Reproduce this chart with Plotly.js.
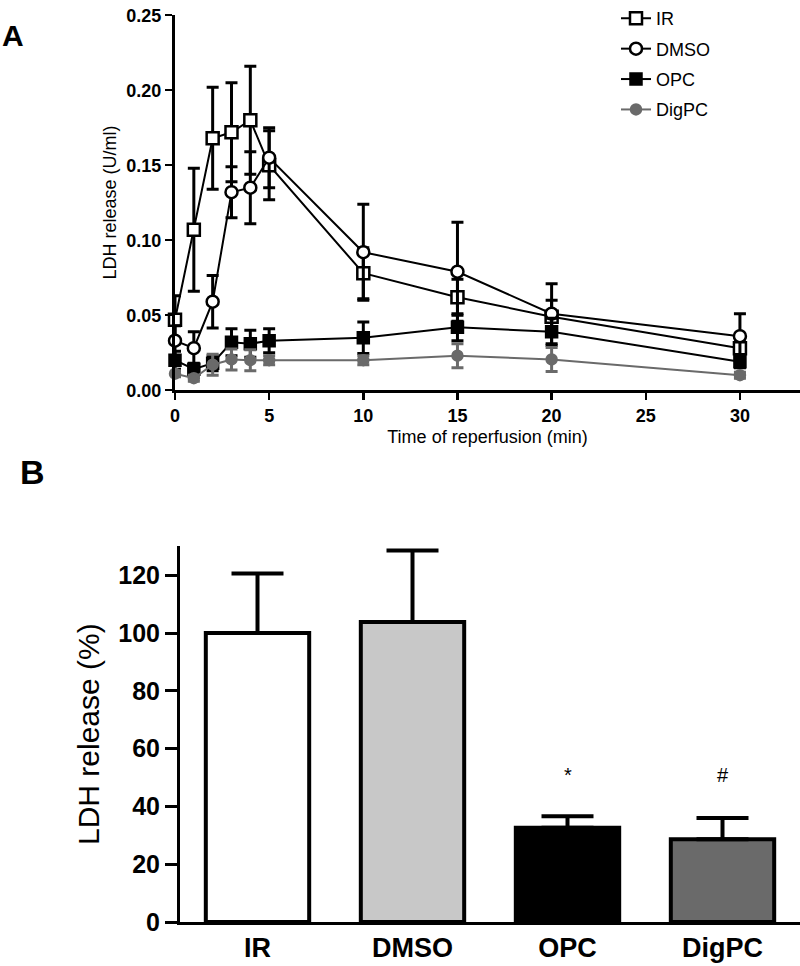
<!DOCTYPE html>
<html>
<head>
<meta charset="utf-8">
<script src="https://cdn.plot.ly/plotly-3.0.1.min.js"></script>
<style>html,body{margin:0;padding:0;background:#fff;}#chart{width:800px;height:966px;}</style>
</head>
<body>
<div id="chart"></div>
<script>
// ---- Panel A data ----
const timeMin = [0, 1, 2, 3, 4, 5, 10, 15, 20, 30];
const irMean    = [0.047, 0.107, 0.168, 0.172, 0.180, 0.150, 0.078, 0.062, 0.049, 0.028];
const irSD      = [0.016, 0.041, 0.034, 0.033, 0.036, 0.023, 0.017, 0.012, 0.011, 0.006];
const dmsoMean  = [0.033, 0.028, 0.059, 0.132, 0.135, 0.155, 0.092, 0.079, 0.051, 0.036];
const dmsoSD    = [0.010, 0.011, 0.0175, 0.017, 0.024, 0.020, 0.032, 0.033, 0.020, 0.015];
const opcMean   = [0.020, 0.014, 0.018, 0.032, 0.031, 0.033, 0.035, 0.042, 0.039, 0.019];
const opcSD     = [0.006, 0.004, 0.005, 0.009, 0.009, 0.008, 0.0105, 0.009, 0.009, 0.004];
const digMean   = [0.011, 0.008, 0.017, 0.0205, 0.020, 0.020, 0.020, 0.023, 0.0205, 0.010];
const digSD     = [0.002, 0.002, 0.007, 0.007, 0.007, 0.003, 0.003, 0.008, 0.008, 0.002];
const seriesNames = ['IR', 'DMSO', 'OPC', 'DigPC'];
const yTicksA = [0, 0.05, 0.10, 0.15, 0.20, 0.25];
const xTicksA = [0, 5, 10, 15, 20, 25, 30];

// ---- Panel B data ----
const groups    = ['IR', 'DMSO', 'OPC', 'DigPC'];
const pctMean   = [100, 103.8, 32.6, 28.6];
const pctSD     = [20.6, 24.8, 4.0, 7.4];
const sigMarks  = ['', '', '*', '#'];
const yTicksB   = [0, 20, 40, 60, 80, 100, 120];

const FONT = 'Arial, "Liberation Sans", sans-serif';
const GRAY = '#6a6a6a';

function lineTrace(name, y, sd, markerSym, fill, lineColor, size) {
  return {
    type: 'scatter', mode: 'lines+markers', name: name,
    x: timeMin, y: y, xaxis: 'x', yaxis: 'y', cliponaxis: false,
    line: {color: lineColor, width: 2},
    marker: {symbol: markerSym, size: size, color: fill, line: {color: lineColor, width: 2.5}},
    error_y: {type: 'data', array: sd, visible: true, color: lineColor, thickness: 3, width: 6},
    legendgroup: name
  };
}

const traces = [
  lineTrace(seriesNames[0], irMean, irSD, 'square', '#ffffff', '#000000', 12),
  lineTrace(seriesNames[1], dmsoMean, dmsoSD, 'circle', '#ffffff', '#000000', 12),
  lineTrace(seriesNames[2], opcMean, opcSD, 'square', '#000000', '#000000', 11),
  lineTrace(seriesNames[3], digMean, digSD, 'circle', GRAY, GRAY, 10),
  {
    type: 'bar', x: groups, y: pctMean, xaxis: 'x2', yaxis: 'y2', showlegend: false,
    width: 0.667,
    marker: {color: ['#ffffff', '#c8c8c8', '#000000', '#6a6a6a'], line: {color: '#000000', width: 4}},
    error_y: {type: 'data', symmetric: false, array: pctSD, arrayminus: [0, 0, 0, 0],
              visible: true, color: '#000000', thickness: 4, width: 26}
  }
];

const annotations = [
  {text: '<b>A</b>', xref: 'paper', yref: 'paper', x: 0, y: 1 - 29/966, xanchor: 'left', yanchor: 'middle',
   showarrow: false, font: {family: FONT, size: 30, color: '#000'}},
  {text: '<b>B</b>', xref: 'paper', yref: 'paper', x: 18/800, y: 1 - 468/966, xanchor: 'left', yanchor: 'middle',
   showarrow: false, font: {family: FONT, size: 34, color: '#000'}}
];
groups.forEach((g, i) => {
  if (sigMarks[i]) {
    annotations.push({text: sigMarks[i], xref: 'x2', yref: 'y2', x: g, y: 51, showarrow: false,
      yanchor: 'middle', font: {family: FONT, size: 20, color: '#000'}});
  }
});

const layout = {
  width: 800, height: 966,
  margin: {l: 0, r: 0, t: 0, b: 0},
  paper_bgcolor: '#ffffff', plot_bgcolor: '#ffffff',
  font: {family: FONT, color: '#000'},
  showlegend: true,
  legend: {x: 616/800, y: 1 + 7/966, xanchor: 'left', yanchor: 'top', font: {family: FONT, size: 18, color: '#000'},
           bgcolor: 'rgba(0,0,0,0)', traceorder: 'grouped', tracegroupgap: 4},
  xaxis: {domain: [175/800, 1], range: [0, 33.19], anchor: 'y',
          showline: true, linecolor: '#000', linewidth: 3, zeroline: false, showgrid: false,
          ticks: 'outside', ticklen: 7, tickwidth: 2.5, tickcolor: '#000', tickvals: xTicksA,
          tickfont: {family: FONT, size: 18, weight: 'bold', color: '#000'},
          title: {text: 'Time of reperfusion (min)', font: {family: FONT, size: 18, color: '#000'}, standoff: 6}},
  yaxis: {domain: [1 - 386/966, 1 - 8/966], range: [0, 0.2502], anchor: 'x',
          showline: true, linecolor: '#000', linewidth: 3, zeroline: false, showgrid: false,
          ticks: 'outside', ticklen: 7, tickwidth: 2.5, tickcolor: '#000',
          tickvals: yTicksA, tickformat: '.2f',
          tickfont: {family: FONT, size: 18, weight: 'bold', color: '#000'},
          title: {text: 'LDH release (U/ml)', font: {family: FONT, size: 18, color: '#000'}, standoff: 6}},
  xaxis2: {domain: [180/800, 1], range: [-0.5, 3.5], anchor: 'y2', type: 'category',
           showline: true, linecolor: '#000', linewidth: 3, zeroline: false, showgrid: false, ticks: '',
           tickfont: {family: FONT, size: 27, weight: 'bold', color: '#000'}},
  yaxis2: {domain: [1 - 921.7/966, 1 - 543.3/966], range: [0, 130], anchor: 'x2',
           showline: true, linecolor: '#000', linewidth: 3, zeroline: false, showgrid: false,
           ticks: 'outside', ticklen: 12, tickwidth: 3, tickcolor: '#000',
           tickvals: yTicksB,
           tickfont: {family: FONT, size: 25, weight: 'bold', color: '#000'},
           title: {text: 'LDH release (%)', font: {family: FONT, size: 30, color: '#000'}, standoff: 10}},
  annotations: annotations
};

Plotly.newPlot('chart', traces, layout, {displayModeBar: false, staticPlot: true});
</script>
</body>
</html>
